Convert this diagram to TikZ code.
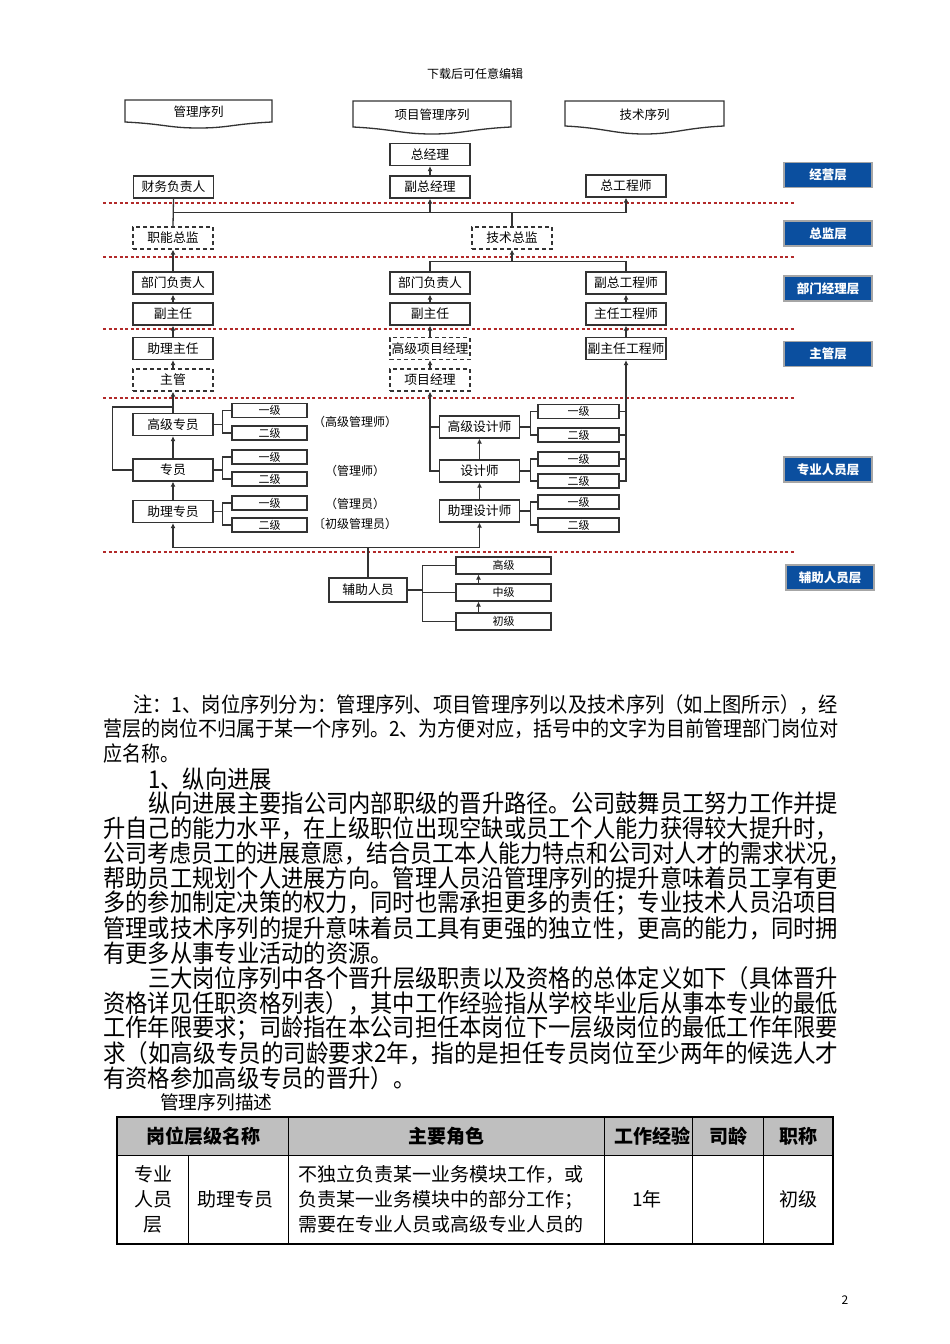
\documentclass[tikz,border=0pt]{standalone}
\usepackage{fontspec}
\setmainfont{Noto Sans CJK SC}
\usepackage{graphicx}
\usetikzlibrary{arrows.meta,positioning}
\definecolor{layerblue}{HTML}{0B4F9F}
\definecolor{cutred}{HTML}{B22A2A}
\newcommand\fitline[2]{\resizebox{#1pt}{1.1\height}{#2}}
\newcommand\tallline[1]{\scalebox{1}[1.1]{#1}}
\tikzset{
  post/.style={draw=black!80, line width=1.3pt, fill=white, minimum width=80pt, minimum height=22pt, inner sep=0pt, font=\fontsize{12.8}{13}\selectfont},
  vacant/.style={post, dash pattern=on 4pt off 3pt},
  grade/.style={post, line width=1.1pt, minimum width=75pt, minimum height=14pt, font=\fontsize{11}{11}\selectfont},
  layer/.style={draw=gray!70, line width=1.2pt, fill=layerblue, text=white, minimum width=88pt, minimum height=25pt, inner sep=0pt, font=\fontsize{12.5}{13}\selectfont\bfseries},
  link/.style={draw=black!80, line width=1.3pt},
  up/.style={link, -{Latex[length=5pt,width=5pt]}},
  cut/.style={draw=cutred, line width=1.1pt, dash pattern=on 3pt off 2.5pt},
  banner/.style={draw=black!80, line width=1.3pt, fill=white},
  para/.style={anchor=west, inner sep=0pt, font=\fontsize{22.3}{25}\selectfont},
  note/.style={anchor=west, inner sep=0pt, font=\fontsize{19}{24}\selectfont},
  cell/.style={inner sep=0pt, font=\fontsize{19}{25}\selectfont},
}
\begin{document}
\begin{tikzpicture}[x=1pt, y=-1pt]
\useasboundingbox (0,0) rectangle (950,1344);
\node[font=\fontsize{12}{12}\selectfont] (head) at (475,74) {下载后可任意编辑};

% sequence banners
\foreach \xa/\xb/\yt/\ys/\yd/\t/\n in {125/272/100/122/128/管理序列/seqa, 353/511/101/127/134/项目管理序列/seqb, 565/724/101/126/134/技术序列/seqc}{
  \draw[banner] (\xa,\yt) -- (\xb,\yt) -- (\xb,\ys) .. controls ({\xb-40},{\ys+2}) and ({(\xa+\xb)/2+30},\yd) .. ({(\xa+\xb)/2},\yd) .. controls ({(\xa+\xb)/2-30},\yd) and ({\xa+40},{\ys+2}) .. (\xa,\ys) -- cycle;
  \node[font=\fontsize{12.5}{13}\selectfont] (\n) at ({(\xa+\xb)/2},{(\yt+\ys)/2+1}) {\t};
}

% layer borders
\foreach \y in {203,257,329,398,552} \draw[cut] (103,\y) -- (795,\y);

% layers
\foreach \y/\t/\n in {175/经营层/la, 233.5/总监层/lb, 288.5/部门经理层/lc, 354/主管层/ld, 469.5/专业人员层/le}
  \node[layer] (\n) at (828,\y) {\t};
\node[layer] (lf) at (830,577.5) {辅助人员层};

% top posts
\node[post] (gm) at (430,154.5) {总经理};
\node[post] (dgm) at (430,187) {副总经理};
\node[post] (fin) at (173.5,187) {财务负责人};
\node[post] (ce) at (626,186) {总工程师};
\node[vacant] (fd) at (173,238) {职能总监};
\node[vacant] (td) at (512,238) {技术总监};
\node[post] (dh1) at (173,283) {部门负责人};
\node[post] (dh2) at (430,283) {部门负责人};
\node[post] (dce) at (626,283) {副总工程师};
\node[post] (dd1) at (173,314) {副主任};
\node[post] (dd2) at (430,314) {副主任};
\node[post] (che) at (626,314) {主任工程师};
\node[post] (ad) at (173,348.5) {助理主任};
\node[vacant] (spm) at (430,348.5) {高级项目经理};
\node[post] (dche) at (626,348.5) {副主任工程师};
\node[vacant] (sup) at (173,380) {主管};
\node[vacant] (pmgr) at (430,380) {项目经理};

% professionals
\node[post] (sen) at (173,424.5) {高级专员};
\node[post] (spc) at (173,470) {专员};
\node[post] (asp) at (173,511.5) {助理专员};
\node[post] (sdes) at (479.5,427) {高级设计师};
\node[post] (des) at (479.5,471) {设计师};
\node[post] (ades) at (479.5,511) {助理设计师};
\foreach \m/\a/\b in {sen/410.5/433, spc/457/479, asp/503/525}{
  \node[grade] (\m-a) at (269.5,\a) {一级};
  \node[grade] (\m-b) at (269.5,\b) {二级};
  \draw[link] (\m.east) -- ++(9,0) coordinate (\m-j);
  \draw[link] (\m-a.west) -| (\m-j) |- (\m-b.west);
}
\foreach \m/\a/\b in {sdes/411.5/435, des/459/481, ades/502/525}{
  \node[grade, minimum width=81pt] (\m-a) at (578.5,\a) {一级};
  \node[grade, minimum width=81pt] (\m-b) at (578.5,\b) {二级};
  \draw[link] (\m.east) -- ++(10,0) coordinate (\m-j);
  \draw[link] (\m-a.west) -| (\m-j) |- (\m-b.west);
}
\node[font=\fontsize{12}{12}\selectfont] (tit-a) at (355,422) {（高级管理师）};
\node[font=\fontsize{12}{12}\selectfont] (tit-b) at (355,471) {（管理师）};
\node[font=\fontsize{12}{12}\selectfont] (tit-c) at (355,504) {（管理员）};
\node[font=\fontsize{12}{12}\selectfont] (tit-d) at (355,524) {〔初级管理员）};

% auxiliary
\node[post, minimum width=78pt, minimum height=24pt] (aux) at (368,590) {辅助人员};
\node[grade, minimum width=95pt, minimum height=17pt] (g1) at (503.5,565.5) {高级};
\node[grade, minimum width=95pt, minimum height=17pt] (g2) at (503.5,592.5) {中级};
\node[grade, minimum width=95pt, minimum height=17pt] (g3) at (503.5,621.5) {初级};

% connectors
\path (fin.south) ++(0,14) coordinate (j1);
\draw[link] (fin.south) -- (fd.north);
\draw[link] (j1) -- (j1 -| ce.south);
\draw[up] (j1 -| dgm.south) -- (dgm.south);
\draw[up] (j1 -| ce.south) -- (ce.south);
\draw[link] (td.north) -- (td.north |- j1);
\draw[up] (dgm) -- (gm);
\path (td.south) ++(0,12) coordinate (j2);
\draw[up] (j2) -- (td.south);
\draw[link] (dh2.north) |- (j2) -| (dce.north);
\draw[up] (dh1) -- (fd);
\draw[up] (dd1) -- (dh1);
\draw[up] (ad) -- (dd1);
\draw[up] (sup) -- (ad);
\draw[up] (dd2) -- (dh2);
\draw[up] (spm) -- (dd2);
\draw[up] (pmgr) -- (spm);
\draw[up] (che) -- (dce);
\draw[up] (dche) -- (che);
\draw[up] (sen) -- (sup);
\draw[up] (spc) -- (sen);
\draw[up] (asp) -- (spc);
\path (sen.north) ++(0,-6) coordinate (j3);
\draw[link] (spc.west) -- ++(-20,0) |- (j3);
\draw[up] (des) -- (sdes);
\draw[up] (ades) -- (des);
\draw[up] (des.west) -| (pmgr.south);
\draw[link] (sdes.west) -- (sdes.west -| pmgr.south);
\draw[up] (des-b.east) -| (dche.south);
\foreach \s in {sdes-a, sdes-b, des-a} \draw[link] (\s.east) -- (\s.east -| dche.south);
\path (aux.north) ++(0,-30) coordinate (j5);
\draw[link] (aux.north) -- (j5);
\draw[up] (j5) -| (asp.south);
\draw[up] (j5) -| (ades.south);
\draw[link] (aux.east) -- ++(15,0) coordinate (j6);
\draw[link] (g1.west) -| (j6) |- (g3.west);
\draw[link] (j6 |- g2.west) -- (g2.west);
\draw[up] ([xshift=-25pt]g3.north) -- ([xshift=-25pt]g2.south);
\draw[up] ([xshift=-25pt]g2.north) -- ([xshift=-25pt]g1.south);

% notes and text
\node[note] (n1) at (133,705) {\fitline{705}{注：1、岗位序列分为：管理序列、项目管理序列以及技术序列（如上图所示），经}};
\node[note] (n2) at (103,729) {\fitline{735}{营层的岗位不归属于某一个序列。2、为方便对应，括号中的文字为目前管理部门岗位对}};
\node[note] (n3) at (103,754) {\tallline{应名称。}};
\node[para] (h1) at (148,779) {\tallline{1、纵向进展}};
\node[para] (b1) at (148,803) {\fitline{690}{纵向进展主要指公司内部职级的晋升路径。公司鼓舞员工努力工作并提}};
\node[para] (b2) at (103,828) {\fitline{735}{升自己的能力水平，在上级职位出现空缺或员工个人能力获得较大提升时，}};
\node[para] (b3) at (103,853) {\fitline{747}{公司考虑员工的进展意愿，结合员工本人能力特点和公司对人才的需求状况，}};
\node[para] (b4) at (103,878) {\fitline{735}{帮助员工规划个人进展方向。管理人员沿管理序列的提升意味着员工享有更}};
\node[para] (b5) at (103,903) {\fitline{735}{多的参加制定决策的权力，同时也需承担更多的责任；专业技术人员沿项目}};
\node[para] (b6) at (103,928) {\fitline{735}{管理或技术序列的提升意味着员工具有更强的独立性，更高的能力，同时拥}};
\node[para] (b7) at (103,953) {\tallline{有更多从事专业活动的资源。}};
\node[para] (b8) at (148,978) {\fitline{690}{三大岗位序列中各个晋升层级职责以及资格的总体定义如下（具体晋升}};
\node[para] (b9) at (103,1003) {\fitline{735}{资格详见任职资格列表），其中工作经验指从学校毕业后从事本专业的最低}};
\node[para] (b10) at (103,1028) {\fitline{735}{工作年限要求；司龄指在本公司担任本岗位下一层级岗位的最低工作年限要}};
\node[para] (b11) at (103,1053) {\fitline{735}{求（如高级专员的司龄要求2年，指的是担任专员岗位至少两年的候选人才}};
\node[para] (b12) at (103,1078) {\tallline{有资格参加高级专员的晋升）。}};
\node[anchor=west, inner sep=0pt, font=\fontsize{18.7}{20}\selectfont] (cap) at (160,1102) {管理序列描述};

% table
\fill[gray!50] (117,1117) rectangle (833,1155);
\draw[line width=1.3pt] (117,1117) rectangle (833,1244);
\draw[line width=1pt] (117,1155) -- (833,1155);
\foreach \x in {288,604,692,763} \draw[line width=1pt] (\x,1117) -- (\x,1244);
\draw[line width=1pt] (188,1155) -- (188,1244);
\node[cell, font=\fontsize{19}{20}\selectfont\bfseries] (th1) at (203,1136) {岗位层级名称};
\node[cell, font=\fontsize{19}{20}\selectfont\bfseries] (th2) at (446,1136) {主要角色};
\node[cell, font=\fontsize{19}{20}\selectfont\bfseries] (th3) at (652,1136) {工作经验};
\node[cell, font=\fontsize{19}{20}\selectfont\bfseries] (th4) at (728,1136) {司龄};
\node[cell, font=\fontsize{19}{20}\selectfont\bfseries] (th5) at (798,1136) {职称};
\node[cell, align=center] (tc1) at (153,1199) {专业\\人员\\层};
\node[cell] (tc2) at (235,1199) {助理专员};
\node[cell, align=left, anchor=west] (tc3) at (298,1199) {不独立负责某一业务模块工作，或\\负责某一业务模块中的部分工作；\\需要在专业人员或高级专业人员的};
\node[cell] (tc4) at (647,1199) {1年};
\node[cell] (tc5) at (798,1199) {初级};

\node[font=\fontsize{12}{12}\selectfont] (page) at (845,1300) {2};
\end{tikzpicture}
\end{document}
